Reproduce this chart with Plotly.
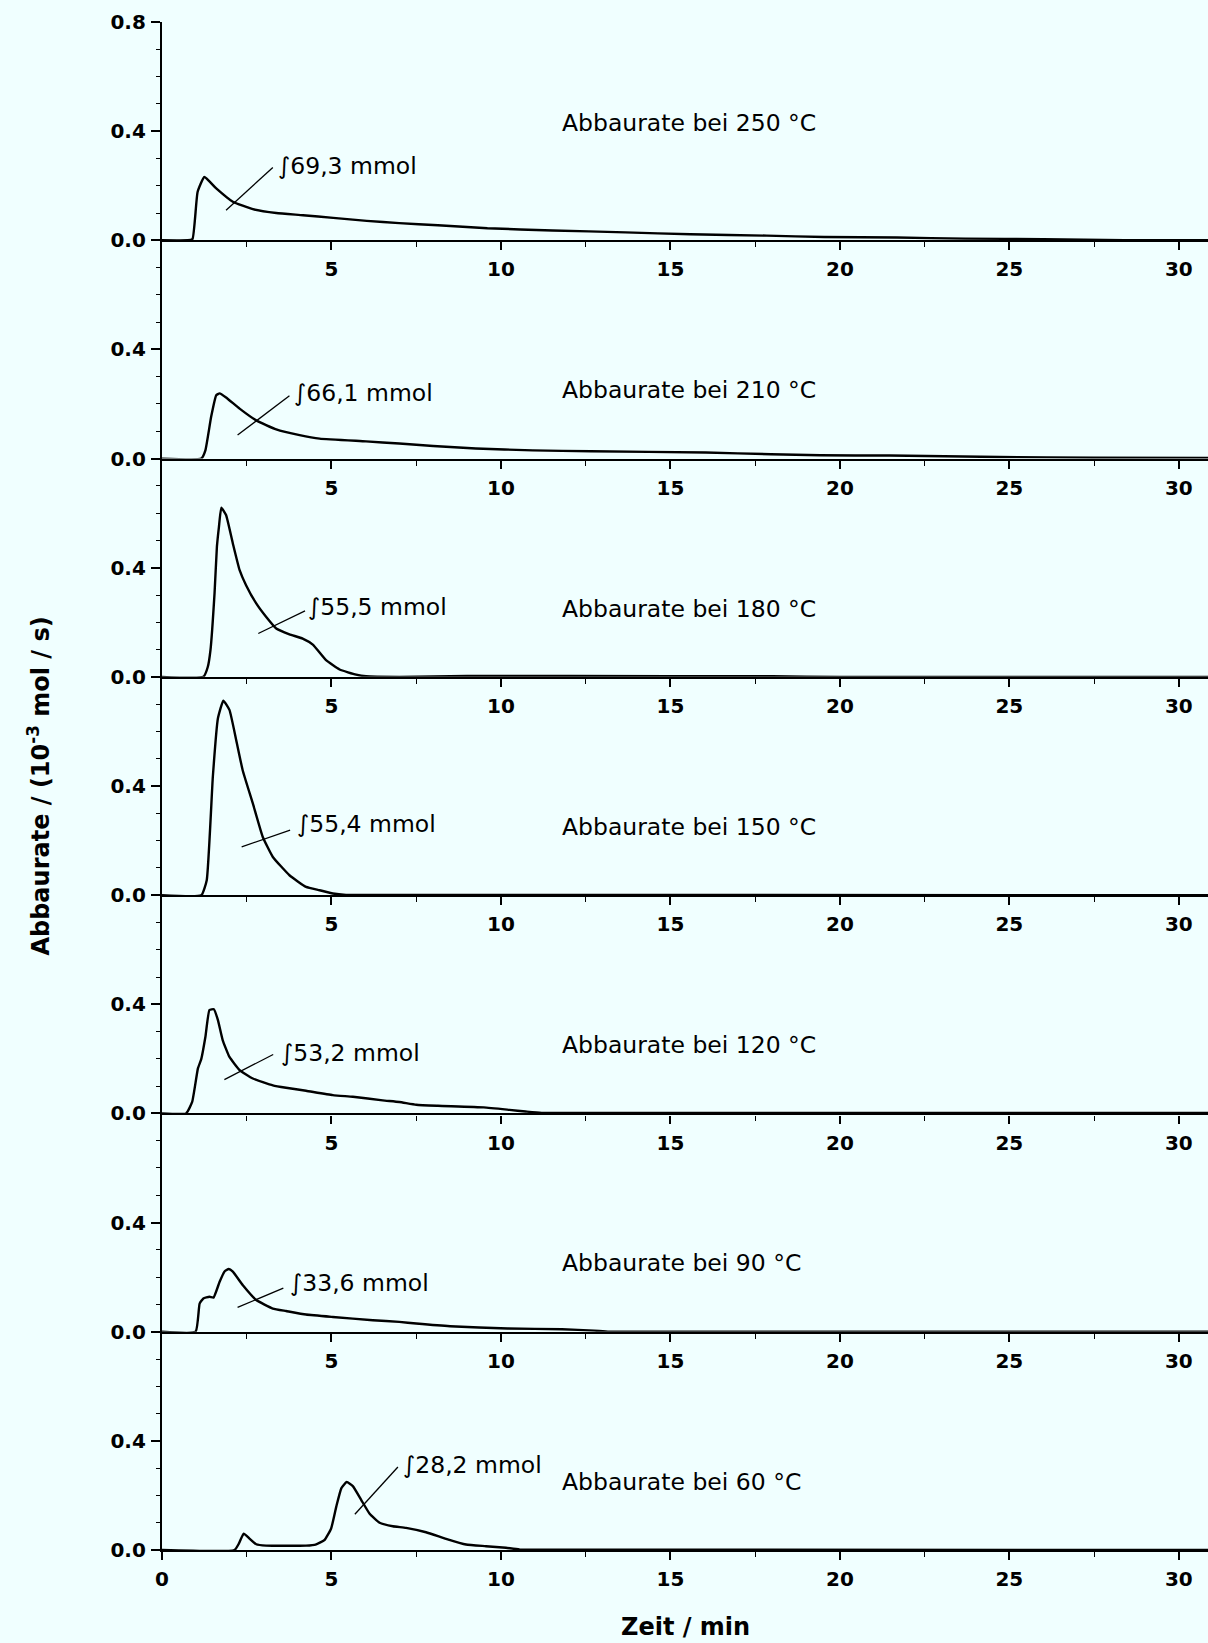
import plotly.graph_objects as go

# ---------------- data ----------------
temperatures = [250, 210, 180, 150, 120, 90, 60]
integrals = ["69,3", "66,1", "55,5", "55,4", "53,2", "33,6", "28,2"]

t250 = [0, 0.76, 0.9, 1.05, 1.25, 1.6, 2.09, 2.68, 3.37, 4.16, 5.05, 6.04, 7.0, 8.14, 9.6, 11.52,
        13.67, 15.59, 17.84, 19.54, 21.68, 23.7, 26.0, 28.4, 30.86]
r250 = [0, 0, 0.005, 0.177, 0.232, 0.19, 0.141, 0.114, 0.10, 0.092, 0.082, 0.071, 0.063, 0.055,
        0.044, 0.036, 0.029, 0.022, 0.017, 0.012, 0.010, 0.006, 0.004, 0.0, 0.0]

t210 = [0, 1.16, 1.28, 1.45, 1.6, 1.7, 1.89, 2.29, 2.78, 3.37, 4.06, 4.65, 6.02, 7.0, 8.0, 9.26,
        10.94, 12.65, 16.04, 17.96, 19.42, 21.46, 24.7, 27.5, 30.86]
r210 = [0, 0, 0.03, 0.153, 0.232, 0.239, 0.224, 0.183, 0.14, 0.107, 0.086, 0.073, 0.063, 0.055,
        0.046, 0.037, 0.030, 0.027, 0.022, 0.016, 0.012, 0.011, 0.006, 0.003, 0.002]

t180 = [0, 1.22, 1.35, 1.43, 1.55, 1.62, 1.68, 1.75, 1.89, 2.09, 2.29, 2.48, 2.78, 3.07, 3.37,
        3.76, 4.15, 4.45, 4.84, 5.24, 5.73, 6.02, 7.0, 9.0, 12.0, 18.0, 20.0, 30.86]
r180 = [0, 0, 0.036, 0.098, 0.306, 0.477, 0.55, 0.62, 0.593, 0.489, 0.391, 0.336, 0.269, 0.22,
        0.177, 0.156, 0.14, 0.118, 0.061, 0.027, 0.008, 0.002, 0.0, 0.003, 0.003, 0.002, 0.0, 0.0]

t150 = [0, 1.16, 1.32, 1.5, 1.65, 1.81, 1.99, 2.19, 2.38, 2.68, 2.97, 3.27, 3.76, 4.25, 4.65,
        5.04, 5.43, 30.86]
r150 = [0, 0, 0.055, 0.434, 0.648, 0.713, 0.679, 0.568, 0.458, 0.336, 0.214, 0.14, 0.073, 0.03,
        0.018, 0.006, 0.001, 0]

t120 = [0, 0.71, 0.89, 1.06, 1.16, 1.28, 1.4, 1.53, 1.65, 1.79, 1.99, 2.29, 2.68, 3.27, 3.66,
        4.25, 5.04, 5.63, 6.51, 7.0, 7.5, 8.14, 9.49, 10.25, 10.73, 11.2, 30.86]
r120 = [0, 0, 0.042, 0.165, 0.2, 0.28, 0.379, 0.382, 0.342, 0.269, 0.207, 0.159, 0.128, 0.103,
        0.094, 0.083, 0.067, 0.061, 0.048, 0.042, 0.032, 0.028, 0.022, 0.013, 0.007, 0.002, 0.002]

t90 = [0, 0.99, 1.11, 1.22, 1.4, 1.52, 1.7, 1.84, 1.97, 2.09, 2.38, 2.78, 3.27, 3.66, 4.25, 5.04,
       6.22, 7.0, 7.5, 8.5, 10.2, 11.8, 12.75, 13.2, 30.86]
r90 = [0, 0, 0.103, 0.122, 0.128, 0.125, 0.183, 0.22, 0.23, 0.22, 0.171, 0.116, 0.085, 0.076,
       0.063, 0.054, 0.042, 0.036, 0.03, 0.02, 0.012, 0.009, 0.004, 0.0, 0.0]

t60 = [0, 2.14, 2.27, 2.41, 2.58, 2.78, 3.07, 4.25, 4.55, 4.79, 4.99, 5.14, 5.29, 5.45, 5.63,
       5.88, 6.12, 6.42, 6.81, 7.2, 7.79, 8.38, 8.97, 9.56, 10.15, 10.55, 30.86]
r60 = [0, 0, 0.024, 0.06, 0.042, 0.021, 0.016, 0.016, 0.021, 0.036, 0.079, 0.158, 0.226, 0.249,
       0.234, 0.183, 0.134, 0.1, 0.087, 0.081, 0.065, 0.041, 0.02, 0.014, 0.008, 0.002, 0.0]

series_t = [t250, t210, t180, t150, t120, t90, t60]
series_r = [r250, r210, r180, r150, r120, r90, r60]

x_major = [5, 10, 15, 20, 25, 30]
x_minor = [2.5, 7.5, 12.5, 17.5, 22.5, 27.5]
y_major = [0.0, 0.4]
y_minor = [0.1, 0.2, 0.3, 0.5, 0.6, 0.7, 0.8]

# ---------------- layout placement (not data) ----------------
integral_text_pos = [(3.36, 0.272), (3.83, 0.239), (4.25, 0.257), (3.92, 0.259),
                     (3.46, 0.22), (3.73, 0.177), (7.05, 0.312)]
leader_lines = [((1.89, 0.110), (3.27, 0.267)), ((2.23, 0.086), (3.76, 0.230)),
                ((2.84, 0.159), (4.22, 0.242)), ((2.35, 0.177), (3.78, 0.238)),
                ((1.84, 0.124), (3.28, 0.216)), ((2.23, 0.089), (3.58, 0.160)),
                ((5.69, 0.131), (6.96, 0.304))]
label_pos = [(11.74, 0.43), (11.74, 0.25), (11.74, 0.25), (11.74, 0.25),
             (11.74, 0.25), (11.74, 0.25), (11.74, 0.25)]

BG = "#F0FFFF"
FONT = "DejaVu Sans"
XMAX = 30.86
N = 7

fig = go.Figure()
layout = dict(
    width=1208, height=1643,
    margin=dict(l=162, r=0, t=22, b=93),
    paper_bgcolor=BG, plot_bgcolor=BG,
    showlegend=False,
    font=dict(family=FONT, color="black"),
)
annotations = []
shapes = []

for i in range(N):
    k = "" if i == 0 else str(i + 1)
    xref = "x" + k
    yref = "y" + k
    top = 1 - i / N
    bot = 1 - (i + 1) / N
    fig.add_trace(go.Scatter(
        x=series_t[i], y=series_r[i], mode="lines",
        line=dict(color="black", width=2.4, shape="spline", smoothing=0.4),
        xaxis=xref, yaxis=yref, hoverinfo="skip"))

    xt = ([0] if i == N - 1 else []) + x_major
    layout["xaxis" + k] = dict(
        domain=[0, 1], anchor=yref, range=[0, XMAX],
        showgrid=False, zeroline=False,
        showline=True, linecolor="black", linewidth=2.2,
        ticks="outside", ticklen=8, tickwidth=1.5, tickcolor="black",
        tickmode="array", tickvals=xt, ticktext=[str(v) for v in xt],
        tickfont=dict(family=FONT, size=20, color="black", weight="bold"),
        ticklabelstandoff=2,
        minor=dict(tickmode="array", tickvals=x_minor, ticks="outside", ticklen=5,
                   tickwidth=1.2, tickcolor="black", showgrid=False),
        fixedrange=True,
    )
    yt = y_major + ([0.8] if i == 0 else [])
    layout["yaxis" + k] = dict(
        domain=[bot, top], anchor=xref, range=[0, 0.8],
        showgrid=False, zeroline=False,
        showline=True, linecolor="black", linewidth=2.2,
        ticks="outside", ticklen=9, tickwidth=1.5, tickcolor="black",
        tickmode="array", tickvals=yt, ticktext=["%.1f" % v for v in yt],
        tickfont=dict(family=FONT, size=20, color="black", weight="bold"),
        ticklabelstandoff=1,
        minor=dict(tickmode="array", tickvals=y_minor, ticks="outside", ticklen=4,
                   tickwidth=1.2, tickcolor="black", showgrid=False),
        fixedrange=True,
    )

    lx, ly = label_pos[i]
    annotations.append(dict(
        x=lx, y=ly, xref=xref, yref=yref, xanchor="left", yanchor="middle",
        text="Abbaurate bei %d °C" % temperatures[i], showarrow=False,
        font=dict(family=FONT, size=23.5, color="black")))
    ix, iy = integral_text_pos[i]
    annotations.append(dict(
        x=ix, y=iy, xref=xref, yref=yref, xanchor="left", yanchor="middle",
        text="∫%s mmol" % integrals[i], showarrow=False,
        font=dict(family=FONT, size=23.5, color="black")))
    (x0, y0), (x1, y1) = leader_lines[i]
    shapes.append(dict(type="line", xref=xref, yref=yref, x0=x0, y0=y0, x1=x1, y1=y1,
                       line=dict(color="black", width=1.3)))

annotations.append(dict(
    x=-0.118, y=0.5, xref="paper", yref="paper", xanchor="center", yanchor="middle",
    textangle=-90, showarrow=False,
    text="<b>Abbaurate / (10<sup>-3</sup> mol / s)</b>",
    font=dict(family=FONT, size=24, color="black")))
annotations.append(dict(
    x=0.5, y=-0.0504, xref="paper", yref="paper", xanchor="center", yanchor="middle",
    showarrow=False, text="<b>Zeit / min</b>",
    font=dict(family=FONT, size=24, color="black")))

layout["annotations"] = annotations
layout["shapes"] = shapes
fig.update_layout(**layout)
fig.write_html("out.html")
